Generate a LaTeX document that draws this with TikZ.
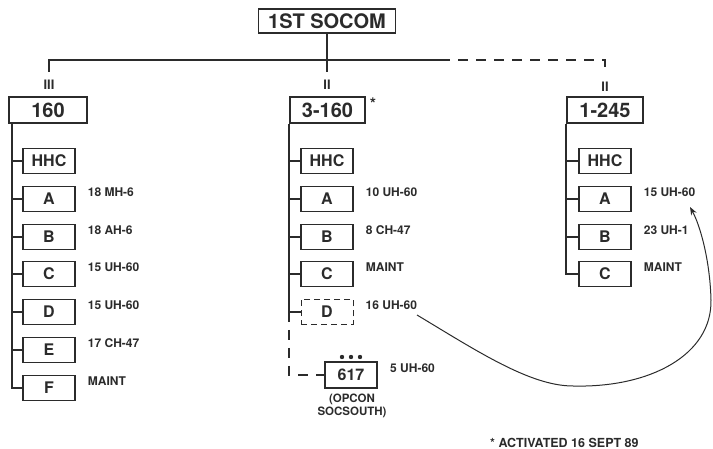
\documentclass[tikz,border=0pt]{standalone}
\usepackage{fontspec}
\setmainfont{TeX Gyre Heros}
\usetikzlibrary{arrows.meta,calc}
\definecolor{ink}{HTML}{2B2B2B}
\begin{document}
\begin{tikzpicture}[x=1pt,y=-1pt,
  line/.style={draw=ink,line width=1.1pt},
  bigbox/.style={draw=ink,line width=1.3pt,minimum height=26pt,inner sep=0pt,font=\fontsize{20}{22}\selectfont\bfseries,text=ink},
  unit/.style={draw=ink,line width=1.3pt,minimum width=52pt,minimum height=25pt,inner sep=0pt,font=\fontsize{16}{18}\selectfont\bfseries,text=ink},
  lbl/.style={anchor=west,inner sep=0pt,font=\fontsize{12}{13}\selectfont\bfseries,text=ink},
  ech/.style={font=\fontsize{13}{14}\selectfont\bfseries,text=ink,inner sep=0pt},
  dsh/.style={dash pattern=on 10pt off 8pt}]
\useasboundingbox (0,0) rectangle (713,449);

% top level
\node[bigbox,minimum width=137pt,minimum height=24pt] (top) at (327,21) {1ST SOCOM};
\node[bigbox,minimum width=78pt] (r1) at (48,110) {160};
\node[bigbox,minimum width=75pt] (r2) at (327.5,110) {3-160};
\node[bigbox,minimum width=76pt] (r3) at (605,110) {1-245};
\node[ech] (e1) at (49,85) {III};
\node[ech] (e2) at (327,85) {II};
\node[ech] (e3) at (605,87) {II};
\node[ech,font=\fontsize{16}{16}\selectfont\bfseries] (star) at (373,104) {*};

\coordinate (t1) at (49,72);
\coordinate (t2) at (327,72);
\coordinate (t3) at (605,74);
\coordinate (hs) at (440,60);
\draw[line] (top.south) -- (top.south |- hs);
\draw[line] (t1) |- (hs);
\draw[line] (t2) -- (t2 |- hs);
\draw[line,dsh] (hs) -| (t3);

% trunks
\path (r1.south) ++(-36,0) coordinate (k1);
\path (r2.south) ++(-38.5,0) coordinate (k2);
\path (r3.south) ++(-39,0) coordinate (k3);

% column 1 (160)
\foreach \n/\t/\y/\l in {H/HHC/161/,A/A/199/18 MH-6,B/B/237/18 AH-6,C/C/274/15 UH-60,D/D/312/15 UH-60,E/E/350/17 CH-47,F/F/388/MAINT}{
  \node[unit] (a\n) at (49,\y) {\t};
  \node[lbl] (la\n) at ($(a\n.east)+(12,-7)$) {\l};
  \draw[line] (k1) |- (a\n.west);
}

% column 2 (3-160)
\foreach \n/\t/\y/\l in {H/HHC/161/,A/A/199/10 UH-60,B/B/237/8 CH-47,C/C/274/MAINT}{
  \node[unit] (b\n) at (327,\y) {\t};
  \node[lbl] (lb\n) at ($(b\n.east)+(12,-7)$) {\l};
  \draw[line] (k2) |- (b\n.west);
}
\node[unit,line width=1pt,dash pattern=on 6pt off 4pt] (bD) at (327,312) {D};
\node[lbl] (lbD) at ($(bD.east)+(12,-7)$) {16 UH-60};
\draw[line] (k2) |- (bD.west);

\node[unit,minimum height=26pt] (u617) at (351,375) {617};
\fill[ink] (342,357) circle (2.2pt) (351,357) circle (2.2pt) (360,357) circle (2.2pt);
\node[lbl] (l617) at (390,368) {5 UH-60};
\node[ech,align=center,font=\fontsize{11.5}{12.5}\selectfont\bfseries] (opcon) at (352,406) {(OPCON\\SOCSOUTH)};
\draw[line,dsh] (k2 |- bD.west) |- (u617.west);

% column 3 (1-245)
\foreach \n/\t/\y/\l in {H/HHC/161/,A/A/199/15 UH-60,B/B/237/23 UH-1,C/C/274/MAINT}{
  \node[unit] (c\n) at (605,\y) {\t};
  \node[lbl] (lc\n) at ($(c\n.east)+(12,-7)$) {\l};
  \draw[line] (k3) |- (c\n.west);
}

% transfer arrow
\coordinate (cs) at (417,315);
\coordinate (ce) at (690,207);
\draw[line,line width=1pt,-{Stealth[length=8pt,width=6pt]}] (cs) .. controls (477,351) and (530,386) .. (573,386) .. controls (650,388) and (712,355) .. (711,300) .. controls (710,260) and (700,225) .. (ce);

% footnote
\node[lbl,font=\fontsize{12.5}{13}\selectfont\bfseries] (note) at (490,443) {* ACTIVATED 16 SEPT 89};
\end{tikzpicture}
\end{document}
